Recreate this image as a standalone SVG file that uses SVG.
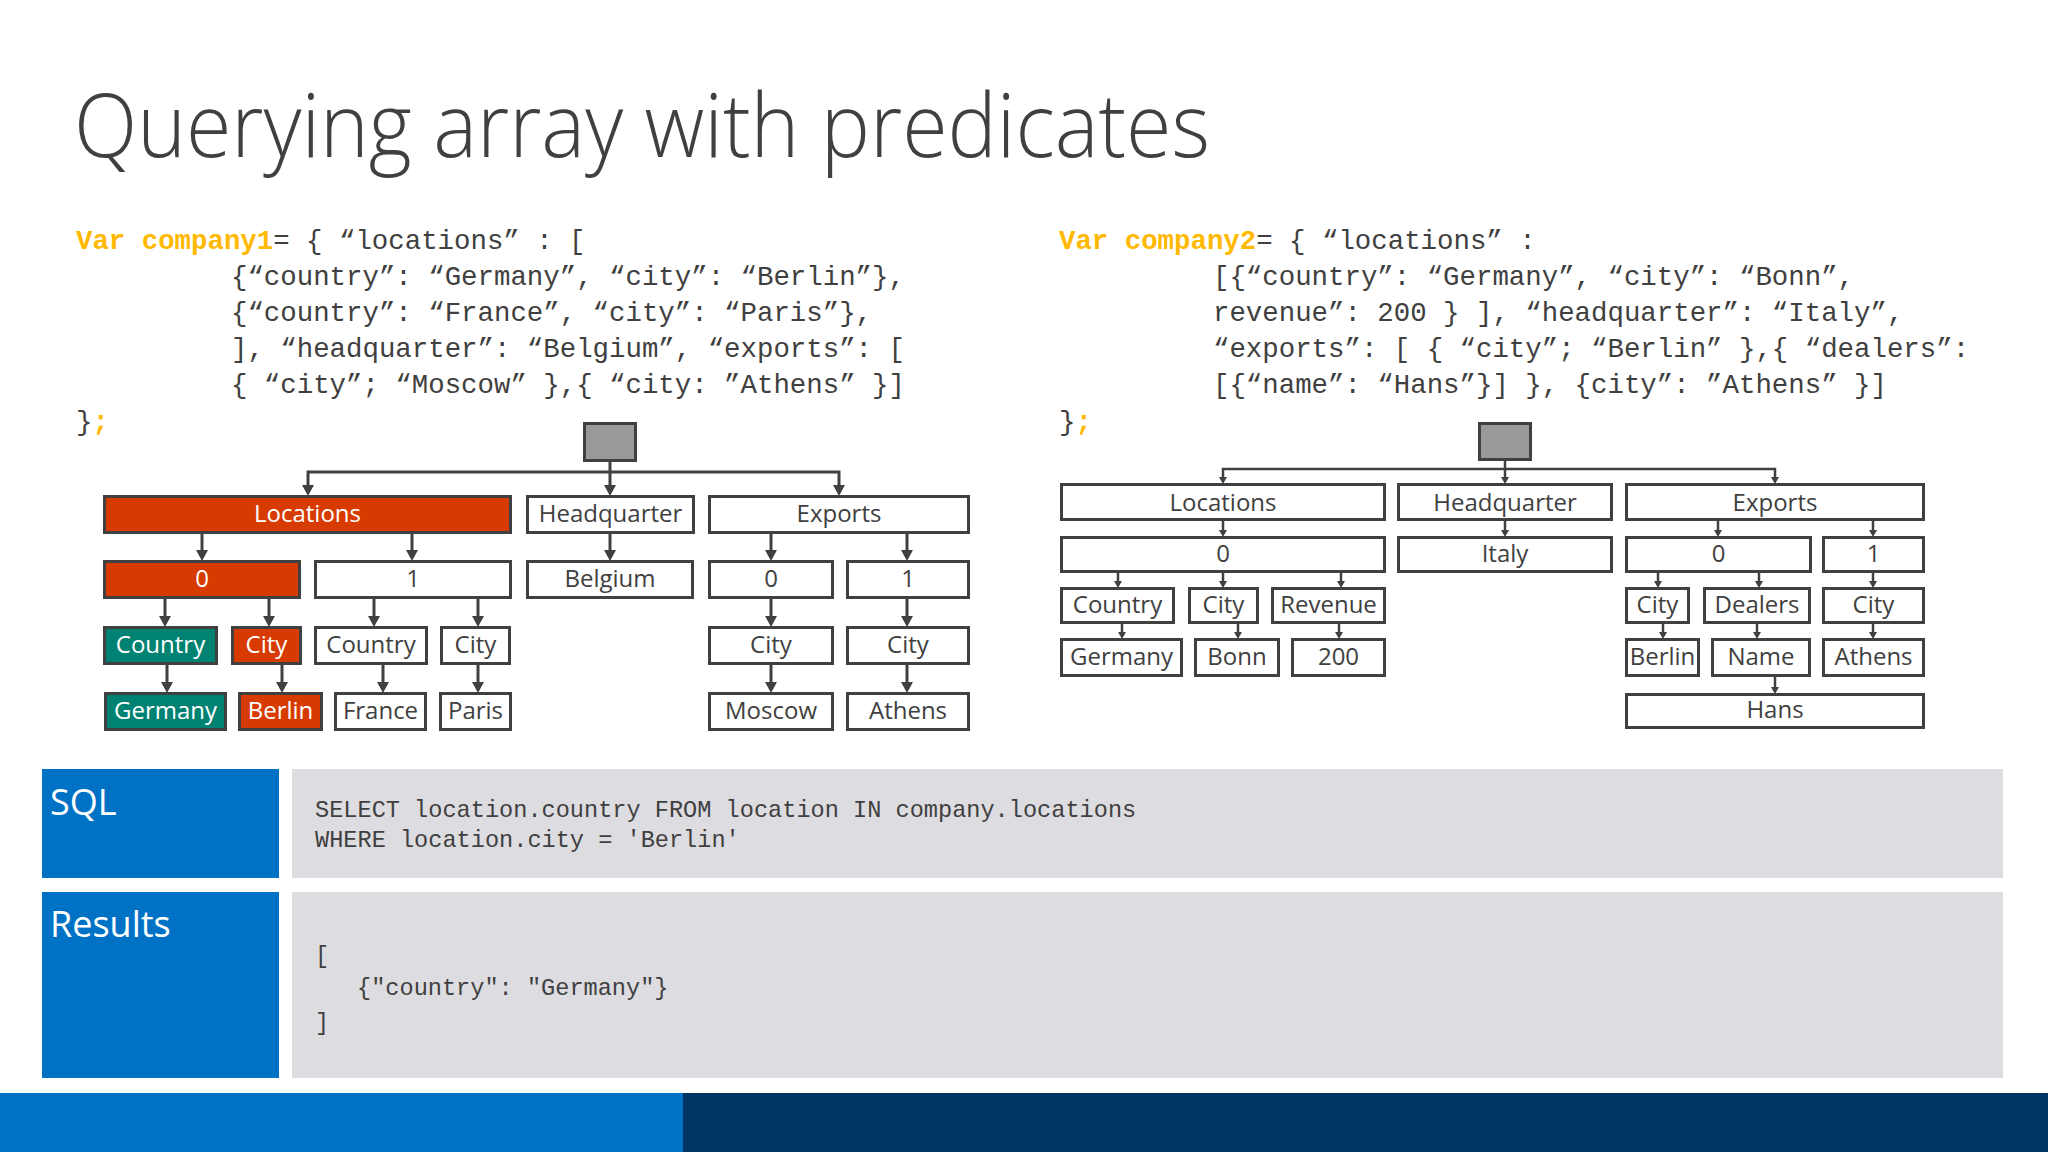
<svg xmlns="http://www.w3.org/2000/svg" width="2048" height="1152" viewBox="0 0 2048 1152">
<defs>
<style>
.bx{fill:#fff;stroke:#404040;stroke-width:3}
.org{fill:#D83B01}
.teal{fill:#008272}
.root{fill:#999999}
.lbl{font-family:'Open Sans','Noto Sans',sans-serif;font-size:24px;fill:#404040;text-anchor:middle}
.w{fill:#fff}
.code{font-family:'Liberation Mono','DejaVu Sans Mono',monospace;font-size:27.4px;fill:#404040}
.kw{fill:#FFB900;font-weight:bold}
.sql{font-family:'Liberation Mono','DejaVu Sans Mono',monospace;font-size:23.6px;fill:#404040;white-space:pre}
.head{font-family:'Open Sans','Noto Sans',sans-serif;font-size:36px;fill:#fff}
.cl{fill:none;stroke:#404040;stroke-width:3}
.cr{fill:none;stroke:#404040;stroke-width:2.5}
</style>
<marker id="al" markerUnits="userSpaceOnUse" markerWidth="12" markerHeight="12" refX="0" refY="6" orient="auto-start-reverse" viewBox="0 0 11 12"><path d="M0,0 L11,6 L0,12 z" fill="#404040"/></marker>
<marker id="ar" markerUnits="userSpaceOnUse" markerWidth="7" markerHeight="8" refX="0" refY="4" orient="auto-start-reverse" viewBox="0 0 7 8"><path d="M0,0 L7,4 L0,8 z" fill="#404040"/></marker>
</defs>
<rect width="2048" height="1152" fill="#fff"/>

<g id="title"><text x="74" y="157" font-family="'Open Sans','Noto Sans',sans-serif" font-weight="300" font-size="88" fill="#404040" textLength="1136" lengthAdjust="spacingAndGlyphs">Querying array with predicates</text></g>

<g id="code1" class="code">
<text x="76" y="249"><tspan class="kw">Var company1</tspan>= { “locations” : [</text>
<text x="231" y="285">{“country”: “Germany”, “city”: “Berlin”},</text>
<text x="231" y="321">{“country”: “France”, “city”: “Paris”},</text>
<text x="231" y="357">], “headquarter”: “Belgium”, “exports”: [</text>
<text x="231" y="393">{ “city”; “Moscow” },{ “city: ”Athens” }]</text>
<text x="76" y="430">}<tspan class="kw">;</tspan></text>
</g>
<g id="code2" class="code">
<text x="1059" y="249"><tspan class="kw">Var company2</tspan>= { “locations” :</text>
<text x="1213" y="285">[{“country”: “Germany”, “city”: “Bonn”,</text>
<text x="1213" y="321">revenue”: 200 } ], “headquarter”: “Italy”,</text>
<text x="1213" y="357">“exports”: [ { “city”; “Berlin” },{ “dealers”:</text>
<text x="1213" y="393">[{“name”: “Hans”}] }, {city”: ”Athens” }]</text>
<text x="1059" y="430">}<tspan class="kw">;</tspan></text>
</g>

<g id="connectors">
<path class="cl" d="M610,462 V485" marker-end="url(#al)"/>
<path class="cl" d="M308,485 V472 H839 V485" marker-start="url(#al)" marker-end="url(#al)"/>
<path class="cl" d="M202,534 V550" marker-end="url(#al)"/>
<path class="cl" d="M412,534 V550" marker-end="url(#al)"/>
<path class="cl" d="M610,534 V550" marker-end="url(#al)"/>
<path class="cl" d="M771,534 V550" marker-end="url(#al)"/>
<path class="cl" d="M907,534 V550" marker-end="url(#al)"/>
<path class="cl" d="M165,599 V616" marker-end="url(#al)"/>
<path class="cl" d="M269,599 V616" marker-end="url(#al)"/>
<path class="cl" d="M374,599 V616" marker-end="url(#al)"/>
<path class="cl" d="M478,599 V616" marker-end="url(#al)"/>
<path class="cl" d="M771,599 V616" marker-end="url(#al)"/>
<path class="cl" d="M907,599 V616" marker-end="url(#al)"/>
<path class="cl" d="M167,665 V682" marker-end="url(#al)"/>
<path class="cl" d="M282,665 V682" marker-end="url(#al)"/>
<path class="cl" d="M383,665 V682" marker-end="url(#al)"/>
<path class="cl" d="M478,665 V682" marker-end="url(#al)"/>
<path class="cl" d="M771,665 V682" marker-end="url(#al)"/>
<path class="cl" d="M907,665 V682" marker-end="url(#al)"/>

<path class="cr" d="M1505,461 V477" marker-end="url(#ar)"/>
<path class="cr" d="M1223,477 V469 H1775 V477" marker-start="url(#ar)" marker-end="url(#ar)"/>
<path class="cr" d="M1223,521 V530" marker-end="url(#ar)"/>
<path class="cr" d="M1505,521 V530" marker-end="url(#ar)"/>
<path class="cr" d="M1718,521 V530" marker-end="url(#ar)"/>
<path class="cr" d="M1873,521 V530" marker-end="url(#ar)"/>
<path class="cr" d="M1118,573 V581" marker-end="url(#ar)"/>
<path class="cr" d="M1223,573 V581" marker-end="url(#ar)"/>
<path class="cr" d="M1341,573 V581" marker-end="url(#ar)"/>
<path class="cr" d="M1658,573 V581" marker-end="url(#ar)"/>
<path class="cr" d="M1759,573 V581" marker-end="url(#ar)"/>
<path class="cr" d="M1873,573 V581" marker-end="url(#ar)"/>
<path class="cr" d="M1122,624 V632" marker-end="url(#ar)"/>
<path class="cr" d="M1238,624 V632" marker-end="url(#ar)"/>
<path class="cr" d="M1339,624 V632" marker-end="url(#ar)"/>
<path class="cr" d="M1663,624 V632" marker-end="url(#ar)"/>
<path class="cr" d="M1757,624 V632" marker-end="url(#ar)"/>
<path class="cr" d="M1873,624 V632" marker-end="url(#ar)"/>
<path class="cr" d="M1775,677 V687" marker-end="url(#ar)"/>
</g>

<!-- Left tree -->
<g id="L-root"><rect class="bx root" x="584.5" y="423.5" width="51" height="37"/></g>
<g id="L-locations"><rect class="bx org" x="104.5" y="496.5" width="406" height="36"/><text class="lbl w" x="307.5" y="522">Locations</text></g>
<g id="L-headquarter"><rect class="bx" x="527.5" y="496.5" width="166" height="36"/><text class="lbl" x="610.5" y="522">Headquarter</text></g>
<g id="L-exports"><rect class="bx" x="709.5" y="496.5" width="259" height="36"/><text class="lbl" x="839" y="522">Exports</text></g>
<g id="L-loc0"><rect class="bx org" x="104.5" y="561.5" width="195" height="36"/><text class="lbl w" x="202" y="587">0</text></g>
<g id="L-loc1"><rect class="bx" x="315.5" y="561.5" width="195" height="36"/><text class="lbl" x="413" y="587">1</text></g>
<g id="L-belgium"><rect class="bx" x="527.5" y="561.5" width="165" height="36"/><text class="lbl" x="610" y="587">Belgium</text></g>
<g id="L-exp0"><rect class="bx" x="709.5" y="561.5" width="123" height="36"/><text class="lbl" x="771" y="587">0</text></g>
<g id="L-exp1"><rect class="bx" x="847.5" y="561.5" width="121" height="36"/><text class="lbl" x="908" y="587">1</text></g>
<g id="L-country0"><rect class="bx teal" x="104.5" y="627.5" width="112" height="36"/><text class="lbl w" x="160.5" y="653">Country</text></g>
<g id="L-city0"><rect class="bx org" x="232.5" y="627.5" width="68" height="36"/><text class="lbl w" x="266.5" y="653">City</text></g>
<g id="L-country1"><rect class="bx" x="315.5" y="627.5" width="111" height="36"/><text class="lbl" x="371" y="653">Country</text></g>
<g id="L-city1"><rect class="bx" x="441.5" y="627.5" width="68" height="36"/><text class="lbl" x="475.5" y="653">City</text></g>
<g id="L-ecity0"><rect class="bx" x="709.5" y="627.5" width="123" height="36"/><text class="lbl" x="771" y="653">City</text></g>
<g id="L-ecity1"><rect class="bx" x="847.5" y="627.5" width="121" height="36"/><text class="lbl" x="908" y="653">City</text></g>
<g id="L-germany"><rect class="bx teal" x="105.5" y="693.5" width="120" height="36"/><text class="lbl w" x="165.5" y="719">Germany</text></g>
<g id="L-berlin"><rect class="bx org" x="239.5" y="693.5" width="82" height="36"/><text class="lbl w" x="280.5" y="719">Berlin</text></g>
<g id="L-france"><rect class="bx" x="335.5" y="693.5" width="90" height="36"/><text class="lbl" x="380.5" y="719">France</text></g>
<g id="L-paris"><rect class="bx" x="440.5" y="693.5" width="70" height="36"/><text class="lbl" x="475.5" y="719">Paris</text></g>
<g id="L-moscow"><rect class="bx" x="709.5" y="693.5" width="123" height="36"/><text class="lbl" x="771" y="719">Moscow</text></g>
<g id="L-athens"><rect class="bx" x="847.5" y="693.5" width="121" height="36"/><text class="lbl" x="908" y="719">Athens</text></g>

<!-- Right tree -->
<g id="R-root"><rect class="bx root" x="1479.5" y="423.5" width="51" height="36"/></g>
<g id="R-locations"><rect class="bx" x="1061.5" y="484.5" width="323" height="35"/><text class="lbl" x="1223" y="511">Locations</text></g>
<g id="R-headquarter"><rect class="bx" x="1398.5" y="484.5" width="213" height="35"/><text class="lbl" x="1505" y="511">Headquarter</text></g>
<g id="R-exports"><rect class="bx" x="1626.5" y="484.5" width="297" height="35"/><text class="lbl" x="1775" y="511">Exports</text></g>
<g id="R-loc0"><rect class="bx" x="1061.5" y="537.5" width="323" height="34"/><text class="lbl" x="1223" y="562">0</text></g>
<g id="R-italy"><rect class="bx" x="1398.5" y="537.5" width="213" height="34"/><text class="lbl" x="1505" y="562">Italy</text></g>
<g id="R-exp0"><rect class="bx" x="1626.5" y="537.5" width="184" height="34"/><text class="lbl" x="1718.5" y="562">0</text></g>
<g id="R-exp1"><rect class="bx" x="1823.5" y="537.5" width="100" height="34"/><text class="lbl" x="1873.5" y="562">1</text></g>
<g id="R-country"><rect class="bx" x="1061.5" y="588.5" width="112" height="34"/><text class="lbl" x="1117.5" y="613">Country</text></g>
<g id="R-city"><rect class="bx" x="1189.5" y="588.5" width="68" height="34"/><text class="lbl" x="1223.5" y="613">City</text></g>
<g id="R-revenue"><rect class="bx" x="1272.5" y="588.5" width="112" height="34"/><text class="lbl" x="1328.5" y="613">Revenue</text></g>
<g id="R-ecity0"><rect class="bx" x="1626.5" y="588.5" width="62" height="34"/><text class="lbl" x="1657.5" y="613">City</text></g>
<g id="R-dealers"><rect class="bx" x="1704.5" y="588.5" width="105" height="34"/><text class="lbl" x="1757" y="613">Dealers</text></g>
<g id="R-ecity1"><rect class="bx" x="1823.5" y="588.5" width="100" height="34"/><text class="lbl" x="1873.5" y="613">City</text></g>
<g id="R-germany"><rect class="bx" x="1061.5" y="639.5" width="120" height="36"/><text class="lbl" x="1121.5" y="665">Germany</text></g>
<g id="R-bonn"><rect class="bx" x="1195.5" y="639.5" width="83" height="36"/><text class="lbl" x="1237" y="665">Bonn</text></g>
<g id="R-200"><rect class="bx" x="1292.5" y="639.5" width="92" height="36"/><text class="lbl" x="1338.5" y="665">200</text></g>
<g id="R-berlin"><rect class="bx" x="1626.5" y="639.5" width="72" height="36"/><text class="lbl" x="1662.5" y="665">Berlin</text></g>
<g id="R-name"><rect class="bx" x="1712.5" y="639.5" width="97" height="36"/><text class="lbl" x="1761" y="665">Name</text></g>
<g id="R-athens"><rect class="bx" x="1823.5" y="639.5" width="100" height="36"/><text class="lbl" x="1873.5" y="665">Athens</text></g>
<g id="R-hans"><rect class="bx" x="1626.5" y="694.5" width="297" height="33"/><text class="lbl" x="1775" y="718">Hans</text></g>

<!-- Query panels -->
<g id="sql-label"><rect x="42" y="769" width="237" height="109" fill="#0072C6"/><text class="head" x="50" y="815">SQL</text></g>
<g id="sql-body"><rect x="292" y="769" width="1711" height="109" fill="#DDDCE0"/>
<text class="sql" x="315" y="817">SELECT location.country FROM location IN company.locations</text>
<text class="sql" x="315" y="847">WHERE location.city = 'Berlin'</text></g>
<g id="results-label"><rect x="42" y="892" width="237" height="186" fill="#0072C6"/><text class="head" x="50" y="937">Results</text></g>
<g id="results-body"><rect x="292" y="892" width="1711" height="186" fill="#DDDCE0"/>
<text class="sql" x="315" y="963">[</text>
<text class="sql" x="357" y="995">{"country": "Germany"}</text>
<text class="sql" x="315" y="1030">]</text></g>

<g id="footer"><rect x="0" y="1093" width="683" height="59" fill="#0072C6"/><rect x="683" y="1093" width="1365" height="59" fill="#003664"/></g>
</svg>
